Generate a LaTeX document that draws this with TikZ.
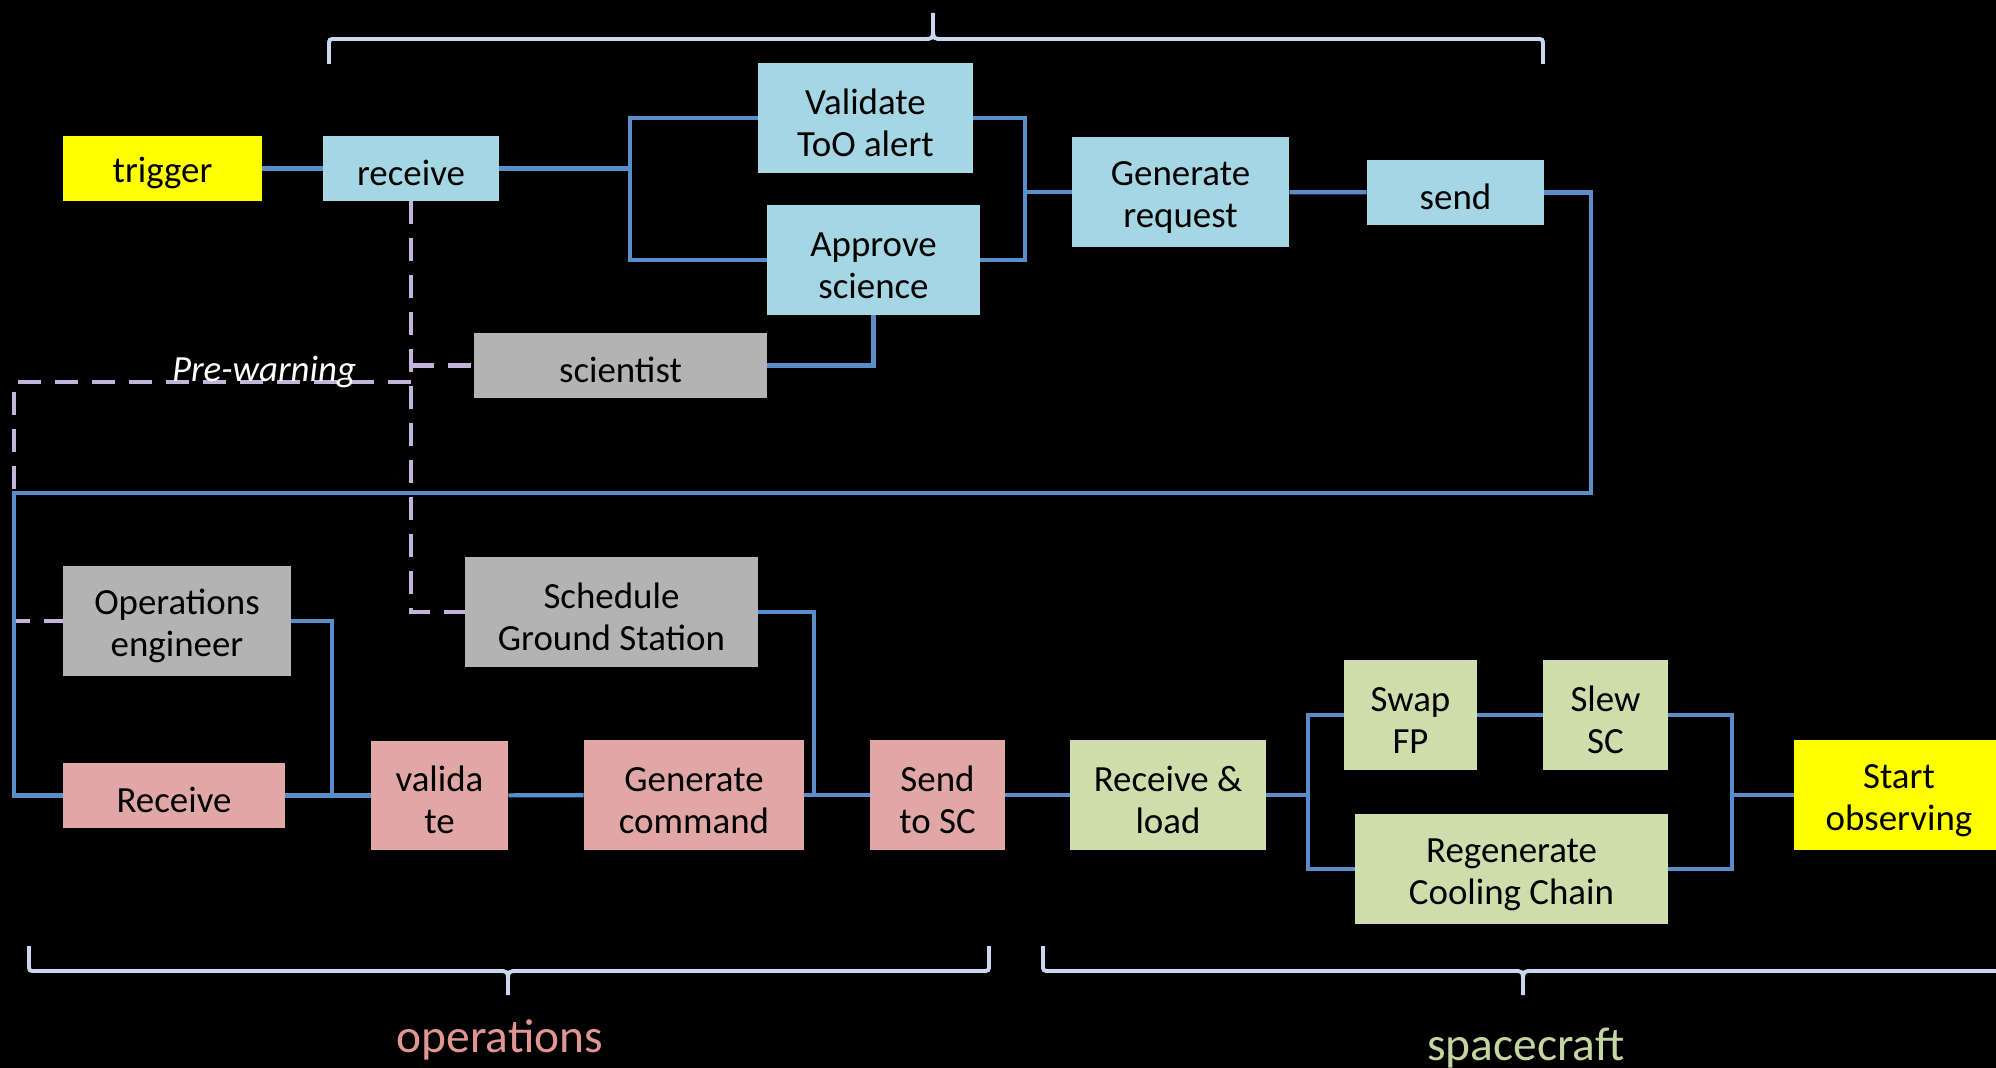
\documentclass[tikz,border=0pt]{standalone}
\usepackage{fontspec}
\setmainfont{Carlito}
\usepackage{tikz}
\usetikzlibrary{arrows.meta,positioning}

\definecolor{boxblue}{RGB}{165,214,228}
\definecolor{boxgray}{RGB}{179,179,179}
\definecolor{boxred}{RGB}{225,167,166}
\definecolor{boxgreen}{RGB}{205,221,171}
\definecolor{trigyellow}{RGB}{255,255,0}
\definecolor{lineblue}{RGB}{88,142,201}
\definecolor{warnpurple}{RGB}{197,180,217}
\definecolor{bracegray}{RGB}{200,216,238}
\definecolor{opsred}{RGB}{226,150,146}
\definecolor{scgreen}{RGB}{196,214,160}

\begin{document}
\begin{tikzpicture}[
    x = 0.02cm, y = -0.02cm,
    every node/.style = {font=\fontsize{21pt}{24pt}\selectfont},
    box/.style = {
        rectangle,
        align=center,
        inner sep=2pt,
        text=black
    },
    short/.style = {box, minimum height=1.3cm,
        execute at begin node={\rule{0pt}{0.95em}}},
    tall/.style = {box, minimum height=2.2cm,
        execute at begin node={\rule{0pt}{\dimexpr24pt+0.95em\relax}}},
    flow/.style = {
        draw=lineblue,
        line width=2.4pt
    },
    warn/.style = {
        draw=warnpurple,
        line width=2.4pt,
        dash pattern=on 0.46cm off 0.28cm
    },
    brace/.style = {
        draw=bracegray,
        line width=2.2pt
    },
    group/.style = {font=\fontsize{27pt}{30pt}\selectfont, anchor=base}
]

\fill[black] (0,0) rectangle (1996,1068);
\useasboundingbox (0,0) rectangle (1996,1068);

% science side
\node[short, fill=trigyellow, minimum width=3.98cm] (trigger) at (162.5,168.5) {trigger};
\node[short, fill=boxblue, minimum width=3.52cm] (receive) at (411,168.5) {receive};
\node[tall, fill=boxblue, minimum width=4.3cm] (validate) at (865.5,118) {Validate\\ToO alert};
\node[tall, fill=boxblue, minimum width=4.26cm] (approve) at (873.5,260) {Approve\\science};
\node[tall, fill=boxblue, minimum width=4.34cm] (genreq) at (1180.5,192) {Generate\\request};
\node[short, fill=boxblue, minimum width=3.54cm] (send) at (1455.5,192.5) {send};
\node[short, fill=boxgray, minimum width=5.86cm] (scientist) at (620.5,365.5) {scientist};

% operations
\node[tall, fill=boxgray, minimum width=4.56cm] (openg) at (177,621) {Operations\\engineer};
\node[tall, fill=boxgray, minimum width=5.86cm] (sched) at (611.5,612) {Schedule\\Ground Station};
\node[short, fill=boxred, minimum width=4.44cm] (rcv) at (174,795.5) {Receive};
\node[tall, fill=boxred, minimum width=2.74cm] (valid) at (439.5,795.5) {valida\\te};
\node[tall, fill=boxred, minimum width=4.4cm] (gencmd) at (694,795) {Generate\\command};
\node[tall, fill=boxred, minimum width=2.7cm] (sendsc) at (937.5,795) {Send\\to SC};

% spacecraft
\node[tall, fill=boxgreen, minimum width=3.92cm] (rload) at (1168,795) {Receive \&\\load};
\node[tall, fill=boxgreen, minimum width=2.66cm] (swap) at (1410.5,715) {Swap\\FP};
\node[tall, fill=boxgreen, minimum width=2.5cm] (slew) at (1605.5,715) {Slew\\SC};
\node[tall, fill=boxgreen, minimum width=6.26cm] (regen) at (1511.5,869) {Regenerate\\Cooling Chain};
\node[tall, fill=trigyellow, minimum width=4.2cm] (start) at (1899,795) {Start\\observing};

% pre-warning
\coordinate (pw) at (411,382);
\draw[warn] (receive.south) |- (sched.west);
\draw[warn] (receive.south |- scientist.west) -- (scientist.west);
\draw[warn] (pw) -- (14,382) |- (openg.west);
\node[font=\fontsize{21pt}{24pt}\selectfont\itshape, text=white] (prewarn) at (264,372) {Pre-warning};

% request chain
\draw[flow] (trigger) -- (receive);
\draw[flow] (receive.east) -- ++(131,0) coordinate (split1) |- (validate.west);
\draw[flow] (split1) |- (approve.west);
\coordinate (join1) at (1025,192);
\draw[flow] (validate.east) -| (join1) -- (genreq.west);
\draw[flow] (approve.east) -| (join1);
\draw[flow] (genreq) -- (send);
\draw[flow] (scientist.east) -| (approve.south);
\coordinate (back) at (14,493);
\draw[flow] (send.east) -- ++(47,0) |- (back) |- (rcv.west);

% command chain
\coordinate (join2) at (332,795.5);
\draw[flow] (openg.east) -| (join2);
\draw[flow] (rcv) -- (valid);
\draw[flow] (valid) -- (gencmd);
\draw[flow] (gencmd) -- (sendsc);
\coordinate (join3) at (814,795);
\draw[flow] (sched.east) -| (join3);
\draw[flow] (sendsc) -- (rload);
\coordinate (split2) at (1308,795);
\draw[flow] (rload.east) -- (split2) |- (swap.west);
\draw[flow] (split2) |- (regen.west);
\draw[flow] (swap) -- (slew);
\coordinate (join4) at (1732,795);
\draw[flow] (slew.east) -| (join4) -- (start.west);
\draw[flow] (regen.east) -| (join4);

% braces
\draw[brace] (329,64) -- (329,46) .. controls (329,39) .. (336,39) -- (923,39)
    .. controls (933,39) .. (933,28) -- (933,13) -- (933,28)
    .. controls (933,39) .. (943,39) -- (1536,39) .. controls (1543,39) .. (1543,46) -- (1543,64);
\draw[brace] (29,946) -- (29,964) .. controls (29,971) .. (36,971) -- (498,971)
    .. controls (508,971) .. (508,982) -- (508,995) -- (508,982)
    .. controls (508,971) .. (518,971) -- (982,971) .. controls (989,971) .. (989,964) -- (989,946);
\draw[brace] (1043,946) -- (1043,964) .. controls (1043,971) .. (1050,971) -- (1513,971)
    .. controls (1523,971) .. (1523,982) -- (1523,995) -- (1523,982)
    .. controls (1523,971) .. (1533,971) -- (2040,971);

\node[group, text=opsred] (opslabel) at (500,1052) {operations};
\node[group, text=scgreen] (sclabel) at (1526,1060) {spacecraft};

\end{tikzpicture}
\end{document}
